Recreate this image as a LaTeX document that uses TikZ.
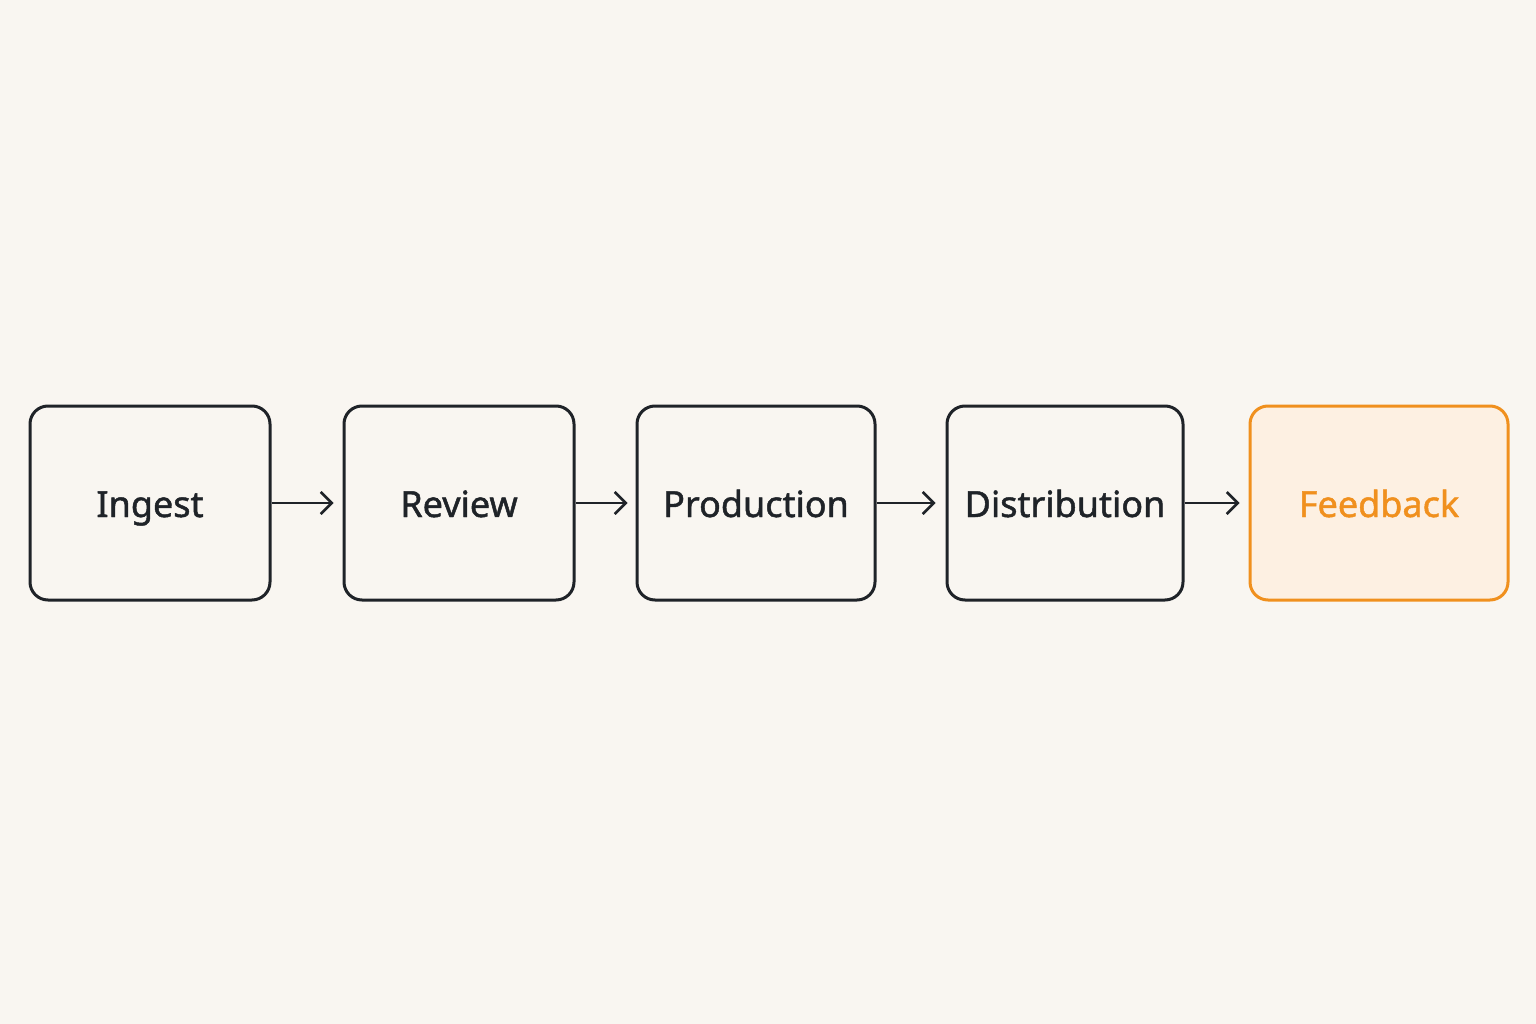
\documentclass[tikz,border=0pt]{standalone}
\usepackage{fontspec}
\setmainfont{Noto Sans}
\newfontfamily\boxfont{Noto Sans}[FakeBold=1.3]
\usetikzlibrary{arrows.meta}
\definecolor{bg}{HTML}{F9F6F1}
\definecolor{ink}{HTML}{1F2328}
\definecolor{org}{HTML}{F0901E}
\definecolor{orgfill}{HTML}{FDF0E2}
\begin{document}
\begin{tikzpicture}[x=1pt,y=-1pt,
 box/.style={draw=ink,line width=3pt,rounded corners=18pt,fill=bg,font=\boxfont\fontsize{36}{40}\selectfont,text=ink,text height=36pt,text depth=8pt},
 arr/.style={draw=ink,line width=2.5pt,-{Straight Barb[length=11pt,width=22pt,line width=2.5pt]}}]
\fill[bg] (0,0) rectangle (1536,1024);
\useasboundingbox (0,0) rectangle (1536,1024);
\node[box,minimum width=240pt,minimum height=194pt] (a) at (150,503) {Ingest};
\node[box,minimum width=230pt,minimum height=194pt] (b) at (459,503) {Review};
\node[box,minimum width=238pt,minimum height=194pt] (c) at (756,503) {Production};
\node[box,minimum width=236pt,minimum height=194pt] (d) at (1065,503) {Distribution};
\node[box,draw=org,fill=orgfill,text=org,minimum width=258pt,minimum height=194pt] (e) at (1379,503) {Feedback};
\draw[arr] (a.east) -- ([xshift=-9pt]b.west);
\draw[arr] (b.east) -- ([xshift=-8pt]c.west);
\draw[arr] (c.east) -- ([xshift=-10pt]d.west);
\draw[arr] (d.east) -- ([xshift=-9pt]e.west);
\end{tikzpicture}
\end{document}
